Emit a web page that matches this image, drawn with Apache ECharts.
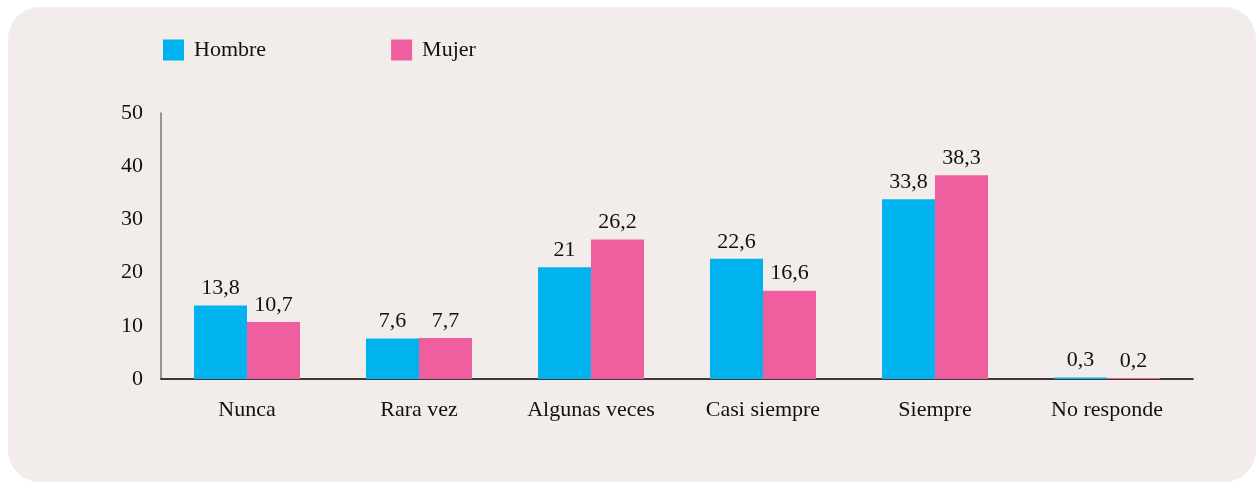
<!DOCTYPE html>
<html>
<head>
<meta charset="utf-8">
<script src="https://cdn.jsdelivr.net/npm/echarts@6/dist/echarts.min.js"></script>
<style>
  html, body { margin: 0; padding: 0; background: #ffffff; }
  #chart { width: 1256px; height: 483px; }
</style>
</head>
<body>
<div id="chart"></div>
<script>
var categories = ['Nunca', 'Rara vez', 'Algunas veces', 'Casi siempre', 'Siempre', 'No responde'];
var hombre = [13.8, 7.6, 21, 22.6, 33.8, 0.3];
var mujer = [10.7, 7.7, 26.2, 16.6, 38.3, 0.2];
var yTicks = [0, 10, 20, 30, 40, 50];

var font = '"Liberation Serif", "Times New Roman", serif';

function commaLabel(p) {
  return String(p.value).replace('.', ',');
}

var chart = echarts.init(document.getElementById('chart'));

chart.setOption({
  animation: false,
  textStyle: {fontFamily: font},
  graphic: [{
    type: 'rect',
    z: -10,
    shape: {x: 8, y: 7, width: 1248, height: 475, r: 32},
    style: {fill: '#f2edea'}
  }],
  legend: {
    left: 158,
    top: 34,
    itemWidth: 21,
    itemHeight: 21,
    itemGap: 125,
    icon: 'rect',
    textStyle: {fontFamily: font, fontSize: 22, color: '#111', padding: [0, 0, 0, 5]},
    data: ['Hombre', 'Mujer']
  },
  grid: {
    left: 161,
    right: 63,
    top: 113,
    bottom: 104
  },
  xAxis: {
    type: 'category',
    data: categories,
    axisLine: {lineStyle: {color: '#000', width: 1.5}},
    axisTick: {show: false},
    axisLabel: {fontFamily: font, fontSize: 22, color: '#111', margin: 20}
  },
  yAxis: {
    type: 'value',
    min: yTicks[0],
    max: yTicks[yTicks.length - 1],
    interval: 10,
    axisLine: {show: true, lineStyle: {color: '#777', width: 1.5}},
    axisTick: {show: false},
    splitLine: {show: false},
    axisLabel: {fontFamily: font, fontSize: 22, color: '#111', margin: 18}
  },
  series: [
    {
      name: 'Hombre',
      type: 'bar',
      data: hombre,
      barWidth: 53,
      barGap: '0%',
      itemStyle: {color: '#00b2ee'},
      label: {show: true, position: 'top', distance: 6, fontFamily: font, fontSize: 22, color: '#111', formatter: commaLabel}
    },
    {
      name: 'Mujer',
      type: 'bar',
      data: mujer,
      barWidth: 53,
      barGap: '0%',
      itemStyle: {color: '#ef5fa0'},
      label: {show: true, position: 'top', distance: 6, fontFamily: font, fontSize: 22, color: '#111', formatter: commaLabel}
    }
  ]
});
</script>
</body>
</html>
